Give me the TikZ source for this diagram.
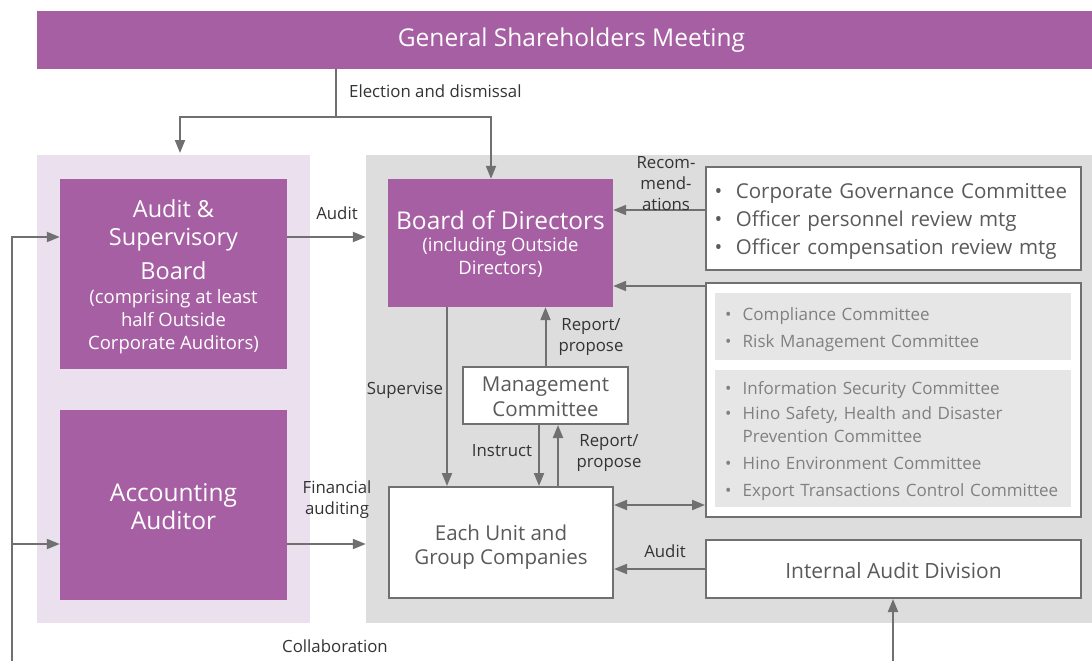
\documentclass[tikz,border=0pt]{standalone}
\usepackage{fontspec}
\setmainfont{Open Sans}
\usetikzlibrary{arrows.meta}
\definecolor{purp}{HTML}{A55FA2}
\definecolor{lav}{HTML}{EBE0EE}
\definecolor{pgray}{HTML}{DCDDDC}
\definecolor{lgray}{HTML}{E6E6E6}
\definecolor{lnc}{HTML}{707070}
\definecolor{txd}{HTML}{333333}
\definecolor{txm}{HTML}{5A5A5A}
\definecolor{txl}{HTML}{808080}
\newcommand{\fsA}{\fontsize{23.5}{30}\selectfont}
\newcommand{\fsB}{\fontsize{18.5}{23}\selectfont}
\newcommand{\fsC}{\fontsize{16.8}{21}\selectfont}
\begin{document}
\begin{tikzpicture}[x=1pt,y=-1pt,
  conn/.style={draw=lnc, line width=2pt, -{Triangle[length=13pt,width=10pt]}},
  dconn/.style={draw=lnc, line width=2pt, {Triangle[length=13pt,width=10pt]}-{Triangle[length=13pt,width=10pt]}},
  pbox/.style={fill=purp, inner sep=0pt},
  ptext/.style={text=white, inner sep=0pt, align=center},
  wbox/.style={fill=white, draw=lnc, line width=2pt, inner sep=0pt},
  wtext/.style={text=txm, inner sep=0pt},
  panel/.style={inner sep=0pt},
  lbl/.style={text=txd, font=\fsC, align=center, inner sep=0pt}
]
\useasboundingbox (0,0) rectangle (1092,661);
% panels
\node[panel, fill=lav, minimum width=273pt, minimum height=468pt] (lavp) at (173.5,389) {};
\node[panel, fill=pgray, minimum width=740pt, minimum height=468pt] (grayp) at (736,389) {};
% top bar (runs past the right edge)
\node[pbox, minimum width=1069pt, minimum height=58pt] (gsm) at (571.5,40) {};
\node[ptext, font=\fontsize{24.5}{30}\selectfont] (gsmt) at (gsm.center) {General Shareholders Meeting};
% left boxes
\node[pbox, minimum width=227pt, minimum height=190pt] (asb) at (173.5,274) {};
\node[ptext, font=\fsA] (asbt) at (173.5,277)
  {Audit \&\\[-2pt]Supervisory\\[4pt]Board\\[-6pt]{\fsB(comprising at least}\\[-7pt]{\fsB half Outside}\\[-7pt]{\fsB Corporate Auditors)}};
\node[pbox, minimum width=227pt, minimum height=190pt] (acc) at (173.5,505) {};
\node[ptext, font=\fontsize{24.5}{30}\selectfont] (acct) at (173.5,507) {Accounting\\[-2pt]Auditor};
% board
\node[pbox, minimum width=225pt, minimum height=128pt] (bod) at (500.5,243) {};
\node[ptext, font=\fontsize{24.5}{30}\selectfont] (bodt) at (500.5,244.5)
  {Board of Directors\\[-8pt]{\fsB(including Outside}\\[-7pt]{\fsB Directors)}};
% committee box 1
\node[wbox, minimum width=375pt, minimum height=103pt] (cgc) at (893.5,218.5) {};
\node[wtext, font=\fontsize{20.5}{28}\selectfont, align=left, text width=357pt] (cgct) at (893,221)
  {\textbullet\ \ Corporate Governance Committee\\\textbullet\ \ Officer personnel review mtg\\\textbullet\ \ Officer compensation review mtg};
% committee box 2
\node[wbox, minimum width=375pt, minimum height=234pt] (cbox2) at (893.5,400) {};
\node[panel, fill=lgray, minimum width=356pt, minimum height=67pt] (in1) at (893,326.5) {};
\node[wtext, text=txl, font=\fontsize{17}{27}\selectfont, align=left, text width=336pt] (in1t) at (893,330)
  {\textbullet\ \ Compliance Committee\\\textbullet\ \ Risk Management Committee};
\node[panel, fill=lgray, minimum width=356pt, minimum height=137pt] (in2) at (893,438.5) {};
\node[wtext, text=txl, font=\fontsize{17}{27}\selectfont, align=left, text width=336pt] (in2t) at (893,441)
  {\textbullet\ \ Information Security Committee\\[-2pt]\textbullet\ \ Hino Safety, Health and Disaster\\[-4pt]\hphantom{\textbullet\ \ }Prevention Committee\\\textbullet\ \ Hino Environment Committee\\\textbullet\ \ Export Transactions Control Committee};
% management
\node[wbox, minimum width=165pt, minimum height=57pt] (mgmt) at (545.5,395.5) {};
\node[wtext, font=\fontsize{20.5}{25}\selectfont, align=center] (mgmtt) at (545.5,396.5) {Management\\Committee};
% units
\node[wbox, minimum width=224pt, minimum height=111pt] (unit) at (501,542.5) {};
\node[wtext, font=\fontsize{20.5}{24}\selectfont, align=center] (unitt) at (501,547.5) {Each Unit and\\Group Companies};
% internal audit
\node[wbox, minimum width=375pt, minimum height=58pt] (iad) at (893.5,569) {};
\node[wtext, font=\fontsize{21}{24}\selectfont] (iadt) at (893.5,571) {Internal Audit Division};

% election
\coordinate (e1) at (336,117);
\coordinate (e2) at (180,153);
\draw[draw=lnc, line width=2pt] (gsm.south -| e1) -- (e1);
\draw[conn] (e1) -| (e2);
\draw[conn] (e1) -| ([xshift=-9.5pt]bod.north);
\node[lbl, anchor=west] (lel) at (349,91) {Election and dismissal};

% collaboration line
\coordinate (col) at (12,661);
\draw[conn] (col) |- ([yshift=37pt]asb.west);
\draw[conn] ([yshift=-39pt]acc.west -| col) -- ([yshift=-39pt]acc.west);
\node[lbl] (lcol) at (335,646) {Collaboration};

% audit arrows
\draw[conn] ([yshift=37pt]asb.east) -- ([yshift=37pt]asb.east -| grayp.west);
\node[lbl] (laud) at (337,213) {Audit};
\draw[conn] ([yshift=-39pt]acc.east) -- ([yshift=-39pt]acc.east -| grayp.west);
\node[lbl] (lfin) at (337,500) {Financial\\auditing};

% recommendations
\draw[conn] ([yshift=8.5pt]cgc.west) -- ([yshift=8.5pt]cgc.west -| bod.east);
\node[lbl] (lrec) at (666,184) {Recom-\\mend-\\ations};
\draw[conn] ([yshift=114pt]cbox2.west) -- ([yshift=114pt]cbox2.west -| bod.east);

% report/propose to board
\draw[conn] (mgmt.north) -- (mgmt.north |- bod.south);
\node[lbl] (lrp1) at (591,337) {Report/\\propose};
% supervise
\draw[conn] ([xshift=-53.5pt]bod.south) -- ([xshift=-53.5pt]bod.south |- unit.north);
\node[lbl] (lsup) at (405,390) {Supervise};
% instruct
\draw[conn] ([xshift=-6.5pt]mgmt.south) -- ([xshift=-6.5pt]mgmt.south |- unit.north);
\node[lbl] (lins) at (502,451) {Instruct};
\draw[conn] ([xshift=12.5pt]mgmt.south |- unit.north) -- ([xshift=12.5pt]mgmt.south);
\node[lbl] (lrp2) at (609,453) {Report/\\propose};
% double arrow
\draw[dconn] ([yshift=37.5pt]unit.east) -- ([yshift=37.5pt]unit.east -| cbox2.west);
% internal audit
\draw[conn] (iad.west) -- (iad.west -| unit.east);
\node[lbl] (laud2) at (665,551) {Audit};
\coordinate (iadb) at (893,661);
\draw[conn] (iadb) -- (iadb |- iad.south);
\end{tikzpicture}
\end{document}
